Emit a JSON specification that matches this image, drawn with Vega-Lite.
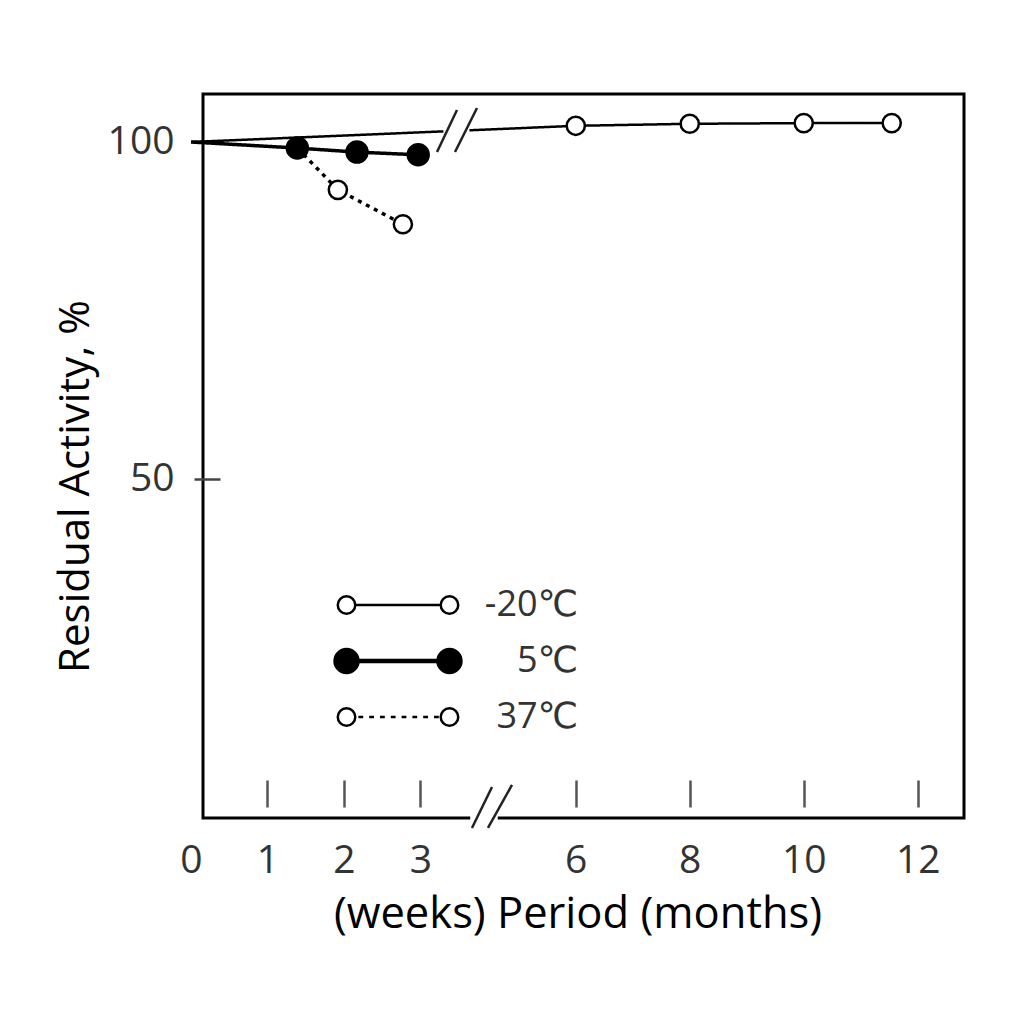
{
  "$schema": "https://vega.github.io/schema/vega-lite/v6.json",
  "width": 761,
  "height": 724,
  "autosize": {"type": "none"},
  "padding": {"left": 203, "top": 94, "right": 60, "bottom": 206},
  "background": "white",
  "config": {
    "view": {"stroke": "black", "strokeWidth": 3},
    "font": "Open Sans"
  },
  "datasets": {
    "series": [
      {"series": "37℃", "t": 1.39, "activity": 99.1},
      {"series": "37℃", "t": 1.92, "activity": 92.9},
      {"series": "37℃", "t": 2.77, "activity": 87.8},
      {"series": "-20℃", "t": 0, "activity": 100},
      {"series": "-20℃", "t": 5.03, "activity": 102.4},
      {"series": "-20℃", "t": 6.52, "activity": 102.7},
      {"series": "-20℃", "t": 8.01, "activity": 102.8},
      {"series": "-20℃", "t": 9.16, "activity": 102.8},
      {"series": "5℃", "t": 0, "activity": 100},
      {"series": "5℃", "t": 1.39, "activity": 99.1},
      {"series": "5℃", "t": 2.17, "activity": 98.5},
      {"series": "5℃", "t": 2.97, "activity": 98.1}
    ],
    "breaks": [
      {"kind": "gap", "t": 3.30, "t2": 3.64, "activity": 101.57, "activity2": 101.74},
      {"kind": "gap", "t": 3.65, "t2": 4.01, "activity": -0.3, "activity2": -0.3},
      {"kind": "slash", "t": 3.216, "t2": 3.477, "activity": 98.52, "activity2": 104.75},
      {"kind": "slash", "t": 3.451, "t2": 3.739, "activity": 98.52, "activity2": 105.04},
      {"kind": "slash", "t": 3.673, "t2": 3.935, "activity": -1.78, "activity2": 4.3},
      {"kind": "slash", "t": 3.882, "t2": 4.196, "activity": -1.78, "activity2": 4.6}
    ]
  },
  "encoding": {
    "x": {
      "field": "t",
      "type": "quantitative",
      "title": "(weeks) Period (months)",
      "scale": {"domain": [0, 10.105], "range": [-12, 761], "nice": false, "zero": false},
      "axis": {
        "values": [0, 1, 2, 3, 5.03, 6.52, 8.01, 9.5],
        "labelExpr": "datum.value < 4 ? datum.label : format(round(6 + (datum.value - 5.03) / 0.745), 'd')",
        "domain": false,
        "grid": false,
        "offset": -38,
        "tickSize": 27,
        "tickWidth": 2.5,
        "tickColor": {"condition": {"test": "datum.value === 0", "value": "transparent"}, "value": "#555"},
        "labelFont": "Open Sans",
        "labelFontSize": 39,
        "labelColor": "#333",
        "labelBaseline": "alphabetic",
        "labelPadding": 65,
        "labelFlush": false,
        "labelOverlap": false,
        "titleFont": "Open Sans",
        "titleFontSize": 43.5,
        "titleFontWeight": "normal",
        "titleColor": "black",
        "titleBaseline": "alphabetic",
        "titleY": 147
      }
    },
    "y": {
      "field": "activity",
      "type": "quantitative",
      "title": "Residual Activity, %",
      "scale": {"domain": [-0.3, 107.12], "nice": false, "zero": false},
      "axis": {
        "values": [50, 100],
        "domain": false,
        "grid": false,
        "offset": -17,
        "tickSize": 26,
        "tickWidth": 2.5,
        "tickColor": "#444",
        "labelFont": "Open Sans",
        "labelFontSize": 39,
        "labelColor": "#333",
        "labelBaseline": "middle",
        "labelPadding": 20,
        "titleFont": "Open Sans",
        "titleFontSize": 42,
        "titleFontWeight": "normal",
        "titleColor": "black",
        "titleBaseline": "middle",
        "titleX": -145,
        "titleY": 392
      }
    }
  },
  "layer": [
    {
      "data": {"name": "series"},
      "mark": {"type": "line", "color": "black"},
      "encoding": {
        "detail": {"field": "series", "type": "nominal"},
        "strokeDash": {"condition": {"test": "datum.series === '37℃'", "value": [4, 5]}, "value": [1, 0]},
        "strokeWidth": {"condition": {"test": "datum.series === '-20℃'", "value": 2.5}, "value": 3.5}
      }
    },
    {
      "data": {"name": "series"},
      "transform": [{"filter": "datum.t > 0"}],
      "mark": {"type": "point", "shape": "circle", "stroke": "black", "strokeWidth": 2.5, "opacity": 1},
      "encoding": {
        "size": {"condition": {"test": "datum.series === '5℃'", "value": 440}, "value": 330},
        "fill": {
          "field": "series",
          "type": "nominal",
          "scale": {"domain": ["-20℃", "5℃", "37℃"], "range": ["white", "black", "white"]},
          "legend": {
            "orient": "none",
            "legendX": 177,
            "legendY": 493,
            "title": null,
            "padding": 0,
            "symbolSize": 14400,
            "symbolType": "M-1.004,0A0.146,0.146,0,1,0,-0.712,0A0.146,0.146,0,1,0,-1.004,0ZM-0.712,0L0.712,0M0.712,0A0.146,0.146,0,1,0,1.004,0A0.146,0.146,0,1,0,0.712,0Z",
            "symbolStrokeColor": "black",
            "symbolStrokeWidth": 2.5,
            "symbolOpacity": 1,
            "labelFont": "Open Sans, DejaVu Sans",
            "labelFontSize": 36,
            "labelColor": "#333",
            "labelAlign": "right",
            "labelOffset": 162,
            "rowPadding": 18,
            "encode": {
              "symbols": {
                "update": {
                  "shape": {"signal": "datum.value === '5℃' ? 'M-1.041,0A0.183,0.183,0,1,0,-0.675,0A0.183,0.183,0,1,0,-1.041,0ZM-0.675,0L0.675,0M0.675,0A0.183,0.183,0,1,0,1.041,0A0.183,0.183,0,1,0,0.675,0Z' : datum.value === '37℃' ? 'M-1.004,0A0.146,0.146,0,1,0,-0.712,0A0.146,0.146,0,1,0,-1.004,0ZM-0.66,0L-0.58,0M-0.48,0L-0.40,0M-0.30,0L-0.22,0M-0.12,0L-0.04,0M0.06,0L0.14,0M0.24,0L0.32,0M0.42,0L0.50,0M0.60,0L0.68,0M0.712,0A0.146,0.146,0,1,0,1.004,0A0.146,0.146,0,1,0,0.712,0Z' : 'M-1.004,0A0.146,0.146,0,1,0,-0.712,0A0.146,0.146,0,1,0,-1.004,0ZM-0.712,0L0.712,0M0.712,0A0.146,0.146,0,1,0,1.004,0A0.146,0.146,0,1,0,0.712,0Z'"},
                  "strokeWidth": {"signal": "datum.value === '5℃' ? 4.5 : 2.5"},
                  "stroke": {"value": "black"},
                  "opacity": {"value": 1}
                }
              }
            }
          }
        }
      }
    },
    {
      "data": {"name": "breaks"},
      "transform": [{"filter": "datum.kind === 'gap'"}],
      "mark": {"type": "rule", "color": "white", "strokeWidth": 8},
      "encoding": {
        "x2": {"field": "t2"},
        "y2": {"field": "activity2"}
      }
    },
    {
      "data": {"name": "breaks"},
      "transform": [{"filter": "datum.kind === 'slash'"}],
      "mark": {"type": "rule", "color": "#222", "strokeWidth": 2.5},
      "encoding": {
        "x2": {"field": "t2"},
        "y2": {"field": "activity2"}
      }
    }
  ]
}
